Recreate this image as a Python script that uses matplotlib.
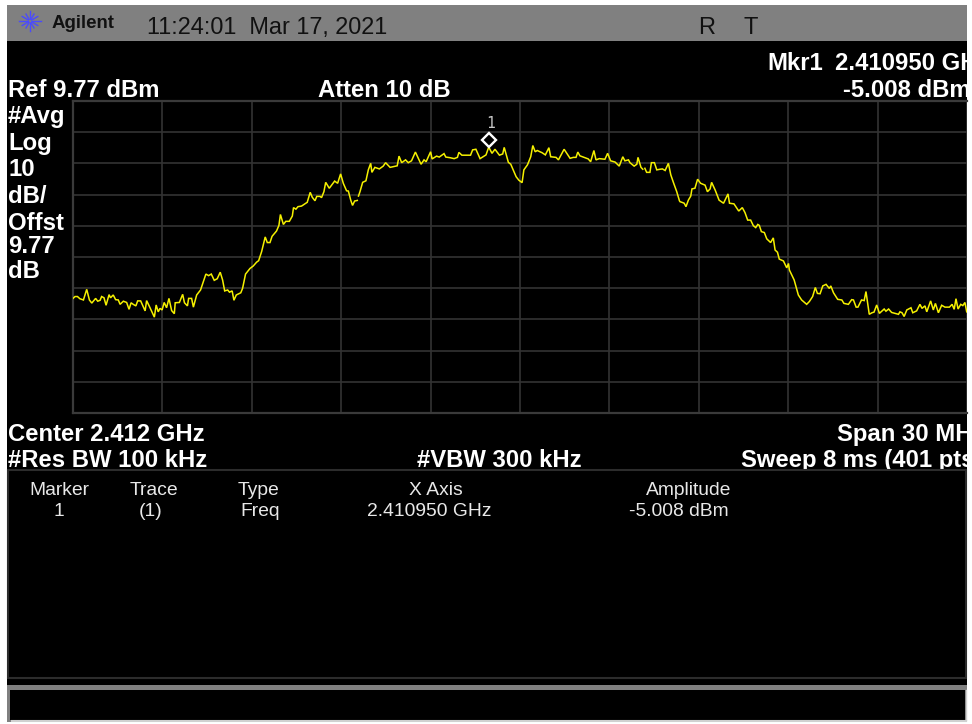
import matplotlib
matplotlib.use("Agg")
import matplotlib.pyplot as plt
import numpy as np
from matplotlib.patches import Rectangle
from matplotlib.ticker import MultipleLocator
from matplotlib.transforms import offset_copy

plt.rcParams['font.family'] = ['Liberation Sans', 'DejaVu Sans']

# Trace: frequency in MHz above the 2397 MHz start of the span, level in dBm
freq_mhz = [
 0,.07,.15,.23,.35,.46,.55,.63,.76,.83,.91,.96,1.04,1.11,1.21,1.26,1.35,1.43,1.52,1.58,1.69,1.80,1.88,1.95,2.02,2.11,2.17,2.27,2.42,2.47,
 2.58,2.73,2.79,2.86,2.92,2.99,3.06,3.14,3.22,3.31,3.40,3.43,3.57,3.68,3.74,3.84,3.88,3.98,4.04,4.15,4.28,4.46,4.55,4.64,4.74,4.84,4.94,5.02,5.09,5.19,
 5.25,5.34,5.40,5.48,5.63,5.69,5.79,5.94,6.05,6.16,6.23,6.33,6.45,6.52,6.61,6.68,6.83,6.91,6.96,7.06,7.14,7.26,7.36,7.40,7.48,7.55,7.67,7.86,7.96,8.03,
 8.12,8.18,8.29,8.34,8.42,8.48,8.60,8.78,8.88,8.98,9.07,9.18,9.24,9.32,9.38,9.45,9.54,
 9.58,9.63,9.72,9.83,9.91,9.99,10.03,10.13,10.28,10.41,10.49,10.64,10.88,10.94,11.03,11.16,11.25,11.36,11.49,11.68,11.78,11.85,12.00,12.05,12.20,12.29,12.45,12.51,12.65,12.79,12.90,
 12.95,13.05,13.34,13.41,13.52,13.66,13.86,13.95,14.06,14.16,14.31,14.42,14.47,14.61,14.69,14.87,14.96,15.07,15.13,15.25,15.36,15.43,15.51,15.58,15.74,15.85,15.97,16.03,16.21,16.29,
 16.48,16.68,16.79,16.88,16.94,17.01,17.18,17.29,17.37,17.48,17.55,17.66,17.85,17.94,18.04,18.19,18.33,18.45,18.52,18.64,18.69,18.83,18.92,18.96,19.06,19.12,
 19.19,19.25,19.36,19.41,19.51,19.59,19.70,19.78,19.87,19.98,20.06,20.15,20.26,20.35,20.37,20.46,20.51,20.57,20.65,20.73,20.77,20.87,20.96,21.06,21.21,21.29,21.38,21.43,21.55,21.68,
 21.83,21.98,22.03,22.18,22.34,22.46,22.55,22.64,22.74,22.83,22.91,22.98,23.03,23.10,23.20,23.28,23.41,23.50,23.56,23.64,23.70,23.84,23.95,24.01,24.04,24.20,24.34,24.45,24.62,24.71,
 24.82,24.91,24.98,25.07,25.16,25.27,25.38,25.43,25.52,25.66,25.80,25.87,26.02,26.13,26.19,26.28,26.34,26.46,26.55,26.61,26.72,26.81,26.88,26.97,27.06,27.22,27.28,27.37,27.47,27.70,
 27.75,27.82,27.89,27.98,28.12,28.18,28.31,28.42,28.49,28.59,28.65,28.78,28.87,28.94,29.04,29.15,29.26,29.41,29.50,29.57,29.63,29.70,29.79,29.86,29.93,29.99]
level_dbm = [
 -53.5,-52.9,-52.9,-53.6,-54.0,-50.6,-54.0,-55.0,-53.5,-54.4,-54.1,-52.9,-53.3,-55.7,-52.3,-53.3,-52.4,-53.9,-54.0,-55.4,-54.4,-54.8,-57.0,-54.9,-55.4,-55.9,-54.3,-54.3,-57.5,-54.2,
 -56.4,-59.5,-55.6,-57.8,-56.7,-57.2,-54.8,-56.5,-53.5,-57.4,-58.4,-54.9,-54.8,-52.2,-54.9,-55.9,-53.5,-53.5,-56.3,-52.4,-50.8,-45.7,-46.2,-45.7,-47.7,-47.2,-45.1,-47.6,-51.1,-50.8,
 -51.5,-51.1,-54.1,-52.4,-51.7,-50.3,-45.7,-43.9,-43.1,-41.9,-41.4,-38.5,-33.8,-35.6,-35.6,-33.6,-31.9,-30.1,-26.6,-29.8,-28.8,-28.8,-27.1,-24.4,-24.9,-24.1,-23.9,-22.7,-19.5,-21.1,
 -22.2,-20.8,-20.8,-21.2,-19.3,-16.3,-18.2,-15.9,-16.6,-13.6,-16.6,-19.0,-19.1,-22.0,-23.7,-22.3,-22.1,
 -20.7,-19.3,-16.3,-15.8,-12.3,-10.2,-13.1,-11.5,-12.0,-11.1,-10.0,-11.5,-11.0,-7.9,-10.0,-9.1,-10.0,-9.4,-6.6,-10.5,-9.1,-9.7,-6.5,-8.8,-7.9,-8.2,-7.1,-8.2,-8.4,-8.7,-8.3,
 -6.7,-7.6,-7.6,-5.9,-5.7,-8.7,-7.5,-5.0,-7.0,-5.7,-7.6,-7.2,-5.1,-9.9,-10.5,-14.5,-15.6,-16.4,-12.3,-10.7,-8.1,-4.5,-6.5,-6.1,-6.8,-7.5,-5.2,-8.1,-8.3,-9.1,
 -5.7,-8.6,-8.3,-8.3,-6.6,-7.8,-8.4,-8.8,-9.7,-6.1,-9.1,-8.7,-8.9,-7.0,-9.4,-9.8,-11.1,-8.1,-9.4,-9.1,-10.0,-11.1,-10.5,-8.3,-11.5,-12.1,
 -11.8,-13.1,-13.1,-10.0,-10.0,-12.3,-12.1,-12.0,-12.5,-10.2,-13.9,-16.4,-19.3,-22.2,-22.5,-22.8,-23.0,-24.1,-22.0,-20.7,-18.4,-18.2,-15.3,-16.6,-17.2,-19.3,-18.4,-16.3,-18.8,-22.0,
 -23.0,-20.0,-23.0,-23.2,-25.5,-24.4,-26.0,-28.4,-28.4,-30.2,-30.8,-29.8,-30.1,-32.1,-32.4,-34.4,-35.6,-34.1,-38.0,-38.7,-40.9,-41.5,-43.7,-42.3,-44.4,-47.6,-52.4,-54.0,-55.4,-54.5,
 -52.9,-50.0,-51.9,-52.0,-49.5,-49.0,-50.3,-49.5,-51.7,-53.8,-54.0,-55.1,-55.4,-53.9,-54.0,-56.3,-56.3,-54.0,-54.2,-51.3,-58.6,-58.1,-57.9,-55.6,-58.3,-56.9,-57.6,-56.9,-58.0,-58.6,
 -57.8,-58.1,-59.3,-57.2,-56.5,-58.1,-57.5,-55.4,-56.7,-55.9,-57.8,-54.3,-57.2,-55.1,-58.1,-55.7,-56.3,-56.3,-55.4,-57.0,-53.6,-56.9,-55.4,-55.8,-54.8,-57.8]
trace_breaks_mhz = [9.56, 19.15]   # the sweep shows small breaks here
marker_mhz = 13.95
marker_dbm = -5.008
ref_dbm = 9.77
span_mhz = 30
db_per_div = 10
table_heads = ['Marker', 'Trace', 'Type', 'X Axis', 'Amplitude']
table_values = ['1', '(1)', 'Freq', '2.410950 GHz', '-5.008 dBm']

W, H = 972, 724
fig = plt.figure(figsize=(W / 100, H / 100), dpi=100, facecolor='white')
bg = fig.add_axes([0, 0, 1, 1], zorder=0)
bg.set_xlim(0, W); bg.set_ylim(H, 0); bg.axis('off')

# screen areas
bg.add_patch(Rectangle((7, 5), 960, 717, fc='black', ec='none', zorder=0))
bg.add_patch(Rectangle((7, 5), 960, 36, fc='#808080', ec='none', zorder=1))

screen = Rectangle((7, 5), 960, 717, transform=bg.transData)

def txt(x, y, s, size=17.2, weight='bold', color='white', ha='left', zorder=3, **kw):
    t = bg.text(x, y, s, fontsize=size, fontweight=weight, color=color, ha=ha, va='baseline', zorder=zorder, **kw)
    t.set_clip_path(screen)
    t.set_clip_on(True)
    return t

# logo
cx, cy = 30, 21
for a, r1 in zip(np.arange(0, 360, 30), [11, 9, 8, 10, 8, 9, 11, 9, 8, 10, 8, 9]):
    c, s = np.cos(np.radians(a)), np.sin(np.radians(a))
    bg.plot([cx + 2 * c, cx + r1 * c], [cy + 2 * s, cy + r1 * s], color='#4a4aff', lw=1.0, zorder=2)
txt(52, 28, 'Agilent', size=13.4, color='#111111')
txt(147, 34, '11:24:01  Mar 17, 2021', size=16.9, weight='normal', color='#111111')
txt(698, 34, 'R', size=17, weight='normal', color='#111111')
txt(743, 34, 'T', size=17, weight='normal', color='#111111')

# upper annotations
txt(767, 70, 'Mkr1')
txt(835, 70, '2.410950 GHz')
txt(8, 97, 'Ref 9.77 dBm')
txt(318, 97, 'Atten 10 dB')
txt(843, 97, '-5.008 dBm')
for y, s in zip([123, 150, 176, 203, 230, 253, 278], ['#Avg', 'Log', '10', 'dB/', 'Offst', '9.77', 'dB']):
    txt(8, y, s)

txt(8, 441, 'Center 2.412 GHz')
txt(837, 441, 'Span 30 MHz')
txt(8, 467, '#Res BW 100 kHz')
txt(417, 467, '#VBW 300 kHz')
txt(741, 467, 'Sweep 8 ms (401 pts)')

# lower table, covers the descenders of the line above
bg.add_patch(Rectangle((8, 470), 958, 208, fc='black', ec='#2c2c2c', lw=1.5, zorder=4))
for x, head in zip([59, 154, 258, 436, 689], table_heads):
    txt(x, 495, head, size=13.9, weight='normal', color='#e8e8e8', ha='center', zorder=5)
for x, val in zip([59, 151, 260, 429, 679], table_values):
    txt(x, 516, val, size=13.9, weight='normal', color='#e8e8e8', ha='center', zorder=5)

# bottom entry box
bg.add_patch(Rectangle((7, 685), 960, 37, fc='#808080', ec='none', zorder=2))
bg.add_patch(Rectangle((10, 690), 955, 30, fc='black', ec='none', zorder=3))
bg.plot([12, 966], [720.5, 720.5], color='#d0d0d0', lw=1.5, zorder=4)
bg.plot([965.5, 965.5], [690, 720], color='#d0d0d0', lw=1, zorder=4)

# graticule
ax = fig.add_axes([73 / W, 1 - 413 / H, (967 - 73) / W, (413 - 101) / H], zorder=2)
ax.patch.set_alpha(0)
ax.set_xlim(0, span_mhz)
ax.set_ylim(ref_dbm - 10 * db_per_div, ref_dbm)
ax.xaxis.set_major_locator(MultipleLocator(span_mhz / 10))
ax.set_yticks(ref_dbm - np.arange(0, 11) * db_per_div)
ax.tick_params(left=False, bottom=False, labelleft=False, labelbottom=False)
ax.grid(True, color='#333333', lw=1.2)
for sp in ax.spines.values():
    sp.set_color('#3a3a3a'); sp.set_linewidth(1.6)
ax.spines['right'].set_visible(False)

f = np.array(freq_mhz); l = np.array(level_dbm)
edges = [0] + [int(np.searchsorted(f, b)) for b in trace_breaks_mhz] + [len(f)]
for a, b in zip(edges[:-1], edges[1:]):
    ax.plot(f[a:b], l[a:b], color='#f5f000', lw=1.1, solid_joinstyle='miter', zorder=3)

up = offset_copy(ax.transData, fig=fig, x=0, y=7 * 0.72, units='points')
ax.plot([marker_mhz], [marker_dbm], transform=up, marker='D', ms=7.5, mfc='black', mec='white', mew=1.7, ls='none', zorder=4)
ax.annotate('1', (marker_mhz, marker_dbm), xytext=(1.5, 13.5), textcoords='offset points', color='#c8c8c8',
            fontsize=10.5, family='DejaVu Sans Mono', ha='center', va='baseline', zorder=4)

fig.savefig('out.png', dpi=100, facecolor='white')
